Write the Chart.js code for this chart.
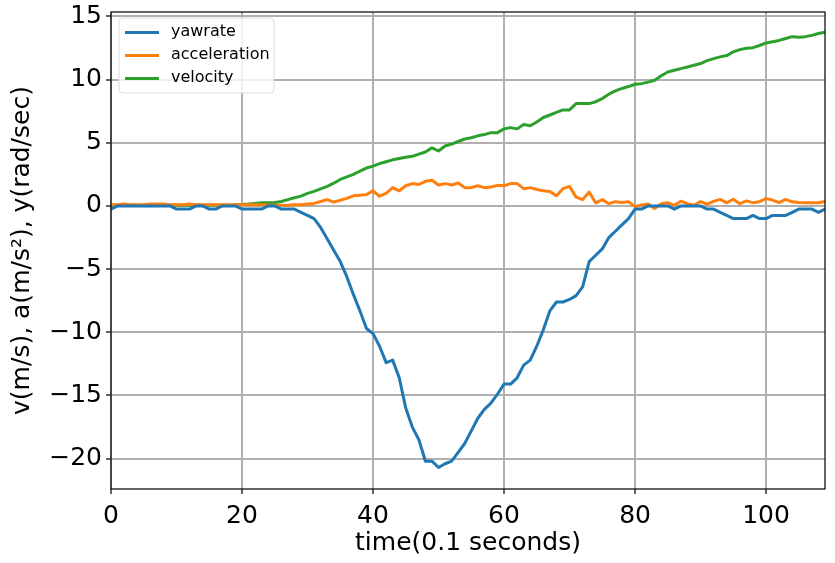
<!DOCTYPE html>
<html>
<head>
<meta charset="utf-8">
<script src="https://cdn.jsdelivr.net/npm/chart.js@4.4.1/dist/chart.umd.min.js"></script>
<style>
  html, body { margin: 0; padding: 0; background: #fff; }
  #wrap { width: 835px; height: 563px; position: relative; }
</style>
</head>
<body>
<div id="wrap"><canvas id="chart"></canvas></div>
<script>
"use strict";

// one sample every 0.1 s, x = sample index
const yawrate = [
  -0.25, 0, 0, 0, 0, 0, 0, 0, 0, 0,
  -0.25, -0.25, -0.25, 0, 0, -0.25, -0.25, 0, 0, 0,
  -0.25, -0.25, -0.25, -0.25, 0, 0, -0.25, -0.25, -0.25, -0.5,
  -0.75, -1.0, -1.7, -2.6, -3.5, -4.4, -5.6, -7.0, -8.3, -9.7,
  -10.1, -11.1, -12.4, -12.2, -13.6, -16.0, -17.5, -18.5, -20.2, -20.2,
  -20.7, -20.4, -20.2, -19.5, -18.8, -17.8, -16.8, -16.1, -15.6, -14.9,
  -14.1, -14.1, -13.6, -12.6, -12.2, -11.1, -9.8, -8.3, -7.6, -7.6,
  -7.4, -7.1, -6.4, -4.4, -3.9, -3.4, -2.5, -2.0, -1.5, -1.0,
  -0.25, -0.25, 0, 0, 0, 0, -0.25, 0, 0, 0,
  0, -0.25, -0.25, -0.5, -0.75, -1.0, -1.0, -1.0, -0.75, -1.0,
  -1.0, -0.75, -0.75, -0.75, -0.5, -0.25, -0.25, -0.25, -0.5, -0.25,
];

const acceleration = [
  0.1, 0.1, 0.15, 0.1, 0.1, 0.1, 0.15, 0.15, 0.15, 0.1,
  0.1, 0.1, 0.15, 0.1, 0.1, 0.1, 0.1, 0.1, 0.1, 0.1,
  0.1, 0.1, 0.1, 0.1, 0.05, 0.05, 0.05, 0.05, 0.1, 0.1,
  0.15, 0.2, 0.35, 0.5, 0.3, 0.45, 0.6, 0.8, 0.85, 0.9,
  1.2, 0.77, 1.0, 1.45, 1.2, 1.6, 1.77, 1.7, 1.95, 2.03,
  1.66, 1.77, 1.66, 1.82, 1.45, 1.45, 1.6, 1.45, 1.5, 1.63,
  1.6, 1.77, 1.77, 1.37, 1.45, 1.3, 1.2, 1.15, 0.8, 1.37,
  1.55, 0.7, 0.5, 1.1, 0.24, 0.5, 0.18, 0.34, 0.28, 0.34,
  -0.05, 0.08, 0.16, -0.2, 0.18, 0.26, 0.05, 0.38, 0.18, 0.05,
  0.35, 0.15, 0.36, 0.52, 0.25, 0.53, 0.18, 0.4, 0.26, 0.34,
  0.58, 0.47, 0.26, 0.52, 0.33, 0.27, 0.25, 0.25, 0.25, 0.35,
];

const velocity = [
  0.05, 0.05, 0.05, 0.05, 0.05, 0.05, 0.05, 0.05, 0.05, 0.05,
  0.05, 0.05, 0.05, 0.05, 0.05, 0.05, 0.05, 0.05, 0.05, 0.1,
  0.12, 0.15, 0.2, 0.25, 0.25, 0.28, 0.35, 0.5, 0.65, 0.78,
  1.0, 1.15, 1.35, 1.55, 1.8, 2.1, 2.3, 2.5, 2.75, 3.0,
  3.15, 3.35, 3.5, 3.65, 3.75, 3.85, 3.93, 4.1, 4.27, 4.6,
  4.35, 4.75, 4.9, 5.1, 5.3, 5.4, 5.55, 5.65, 5.8, 5.8,
  6.1, 6.2, 6.1, 6.45, 6.35, 6.65, 7.0, 7.2, 7.4, 7.6,
  7.6, 8.1, 8.1, 8.1, 8.25, 8.5, 8.85, 9.1, 9.3, 9.45,
  9.63, 9.68, 9.8, 9.95, 10.3, 10.6, 10.74, 10.87, 11.0, 11.13,
  11.27, 11.5, 11.66, 11.8, 11.9, 12.2, 12.37, 12.48, 12.53, 12.7,
  12.9, 13.0, 13.1, 13.25, 13.4, 13.35, 13.4, 13.5, 13.65, 13.75,
];

const seriesNames = ["yawrate", "acceleration", "velocity"];
const seriesColors = ["#1f77b4", "#ff7f0e", "#2ca02c"];
const xTicks = [0, 20, 40, 60, 80, 100];
const yTicks = [-20, -15, -10, -5, 0, 5, 10, 15];

const FONT = "'DejaVu Sans', 'Liberation Sans', sans-serif";
Chart.defaults.font.family = FONT;
Chart.defaults.color = "#000";

const points = (arr) => arr.map((v, i) => ({ x: i, y: v }));
// matplotlib prints a real minus sign
const tickText = (v) => (v < 0 ? "\u2212" + Math.abs(v) : String(v));

// matplotlib-style legend box in the upper left of the plot
const boxLegend = {
  id: "boxLegend",
  afterDraw(chart) {
    const { ctx, chartArea } = chart;
    const x0 = chartArea.left + 8, y0 = chartArea.top + 6;
    const w = 155, h = 75, r = 4;
    ctx.save();
    ctx.beginPath();
    ctx.roundRect(x0, y0, w, h, r);
    ctx.fillStyle = "rgba(255,255,255,0.8)";
    ctx.fill();
    ctx.strokeStyle = "#dcdcdc";
    ctx.lineWidth = 1;
    ctx.stroke();
    ctx.font = "16px " + FONT;
    ctx.textBaseline = "middle";
    ctx.textAlign = "left";
    chart.data.datasets.forEach((ds, i) => {
      const y = y0 + 14.5 + i * 23;
      ctx.beginPath();
      ctx.moveTo(x0 + 6, y);
      ctx.lineTo(x0 + 40, y);
      ctx.strokeStyle = ds.borderColor;
      ctx.lineWidth = 3;
      ctx.stroke();
      ctx.fillStyle = "#000";
      ctx.fillText(ds.label, x0 + 52, y - 1);
    });
    ctx.restore();
  },
};

// full frame around the plot
const frame = {
  id: "frame",
  afterDatasetsDraw(chart) {
    const { ctx, chartArea: a } = chart;
    ctx.save();
    ctx.strokeStyle = "#000";
    ctx.lineWidth = 1.2;
    ctx.strokeRect(a.left, a.top, a.right - a.left, a.bottom - a.top);
    ctx.restore();
  },
};

new Chart(document.getElementById("chart"), {
  type: "line",
  data: {
    datasets: [yawrate, acceleration, velocity].map((arr, i) => ({
      label: seriesNames[i],
      data: points(arr),
      borderColor: seriesColors[i],
      backgroundColor: seriesColors[i],
      borderWidth: 3,
      pointRadius: 0,
      tension: 0,
      borderJoinStyle: "round",
    })),
  },
  options: {
    responsive: true,
    maintainAspectRatio: false,
    animation: false,
    events: [],
    layout: { padding: { top: 12, right: 10, left: 0, bottom: 0 } },
    plugins: { legend: { display: false }, tooltip: { enabled: false } },
    scales: {
      x: {
        type: "linear",
        min: 0,
        max: 109,
        afterBuildTicks: (s) => { s.ticks = xTicks.map((v) => ({ value: v })); },
        afterFit: (s) => { s.height = 74; s.paddingLeft = 0; s.paddingRight = 0; },
        ticks: { font: { size: 25 }, padding: 7, maxRotation: 0, color: "#000", callback: tickText },
        grid: { color: "#b0b0b0", lineWidth: 2, tickColor: "#000", tickLength: 5, tickWidth: 1.2 },
        border: { display: false },
        title: {
          display: true,
          text: "time(0.1 seconds)",
          font: { size: 25 },
          padding: { top: 0, bottom: 5 },
          color: "#000",
        },
      },
      y: {
        type: "linear",
        min: -22.4,
        max: 15.35,
        afterBuildTicks: (s) => { s.ticks = yTicks.map((v) => ({ value: v })); },
        afterFit: (s) => { s.width = 111; s.paddingTop = 0; s.paddingBottom = 0; },
        ticks: { font: { size: 25 }, padding: 4, color: "#000", callback: tickText },
        grid: { color: "#b0b0b0", lineWidth: 2, tickColor: "#000", tickLength: 5, tickWidth: 1.2 },
        border: { display: false },
        title: {
          display: true,
          text: "v(m/s), a(m/s²), y(rad/sec)",
          font: { size: 25 },
          padding: { top: 7, bottom: 0 },
          color: "#000",
        },
      },
    },
  },
  plugins: [frame, boxLegend],
});
</script>
</body>
</html>
